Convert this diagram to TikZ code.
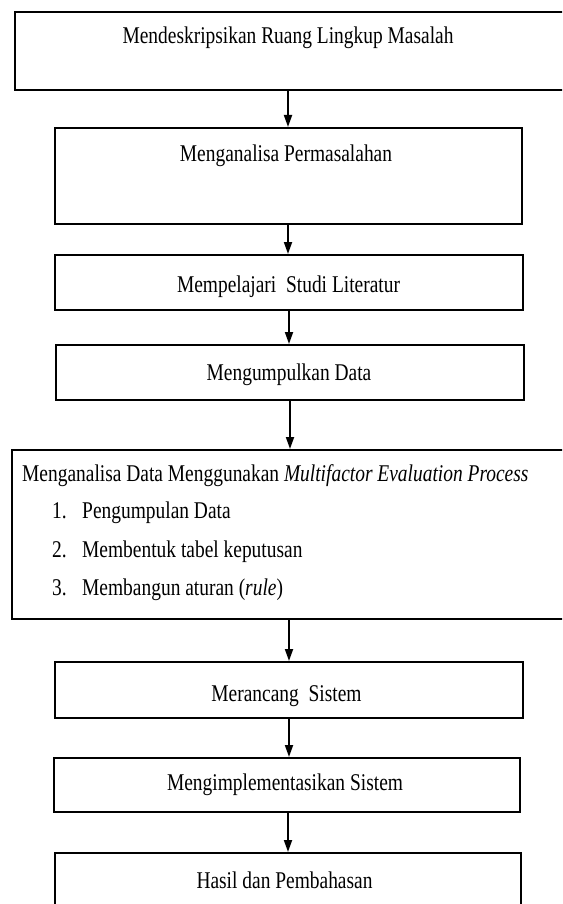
\documentclass[tikz,border=0pt]{standalone}
\usepackage{fontspec}
\setmainfont{Liberation Serif}[FakeStretch=0.81]
\usetikzlibrary{arrows.meta}
\begin{document}
\begin{tikzpicture}[x=1pt,y=-1pt,
  box/.style={draw=black, line width=2pt, inner sep=0pt},
  txt/.style={inner sep=0pt, anchor=base, font=\fontsize{24}{28}\selectfont},
  ltxt/.style={inner sep=0pt, anchor=base west, font=\fontsize{24}{28}\selectfont},
  arr/.style={-{Triangle[length=12pt,width=8pt]}, line width=1.8pt}]
\clip (0,0) rectangle (562,904);
\fill[white] (0,0) rectangle (562,904);
% boxes
\node[box, minimum width=585pt, minimum height=78pt] (b1) at (307.5,51) {};
\node[box, minimum width=467pt, minimum height=96pt] (b2) at (288,176) {};
\node[box, minimum width=468pt, minimum height=55pt] (b3) at (289,282.5) {};
\node[box, minimum width=468pt, minimum height=55pt] (b4) at (290,372.5) {};
\node[box, minimum width=588.5pt, minimum height=169pt] (b5) at (305.75,534.5) {};
\node[box, minimum width=468pt, minimum height=56pt] (b6) at (289,690) {};
\node[box, minimum width=466pt, minimum height=54pt] (b7) at (287,785) {};
\node[box, minimum width=466pt, minimum height=87pt] (b8) at (288,896.5) {};
% texts
\node[txt] (t1) at (288,44) {Mendeskripsikan Ruang Lingkup Masalah};
\node[txt] (t2) at (286,162) {Menganalisa Permasalahan};
\node[txt] (t3) at (288.5,292) {Mempelajari\ \ Studi Literatur};
\node[txt] (t4) at (289,380) {Mengumpulkan Data};
\node[ltxt] (t5) at (22,481) {Menganalisa Data Menggunakan \textit{Multifactor Evaluation Process}};
\node[ltxt] (n1) at (52,518) {1.};
\node[ltxt] (i1) at (82,518) {Pengumpulan Data};
\node[ltxt] (n2) at (52,557) {2.};
\node[ltxt] (i2) at (82,557) {Membentuk tabel keputusan};
\node[ltxt] (n3) at (52,595) {3.};
\node[ltxt] (i3) at (82,595) {Membangun aturan (\textit{rule})};
\node[txt] (t6) at (286.5,701) {Merancang\ \ Sistem};
\node[txt] (t7) at (285,790) {Mengimplementasikan Sistem};
\node[txt] (t8) at (284.5,888) {Hasil dan Pembahasan};
% arrows
\draw[arr] (b2.north |- b1.south) -- (b2.north);
\draw[arr] (b2.south) -- (b3.north -| b2.south);
\draw[arr] (b3.south) -- (b4.north -| b3.south);
\draw[arr] (b4.south) -- (b5.north -| b4.south);
\draw[arr] (b6.north |- b5.south) -- (b6.north);
\draw[arr] (b6.south) -- (b7.north -| b6.south);
\draw[arr] (b8.north |- b7.south) -- (b8.north);
\end{tikzpicture}
\end{document}
